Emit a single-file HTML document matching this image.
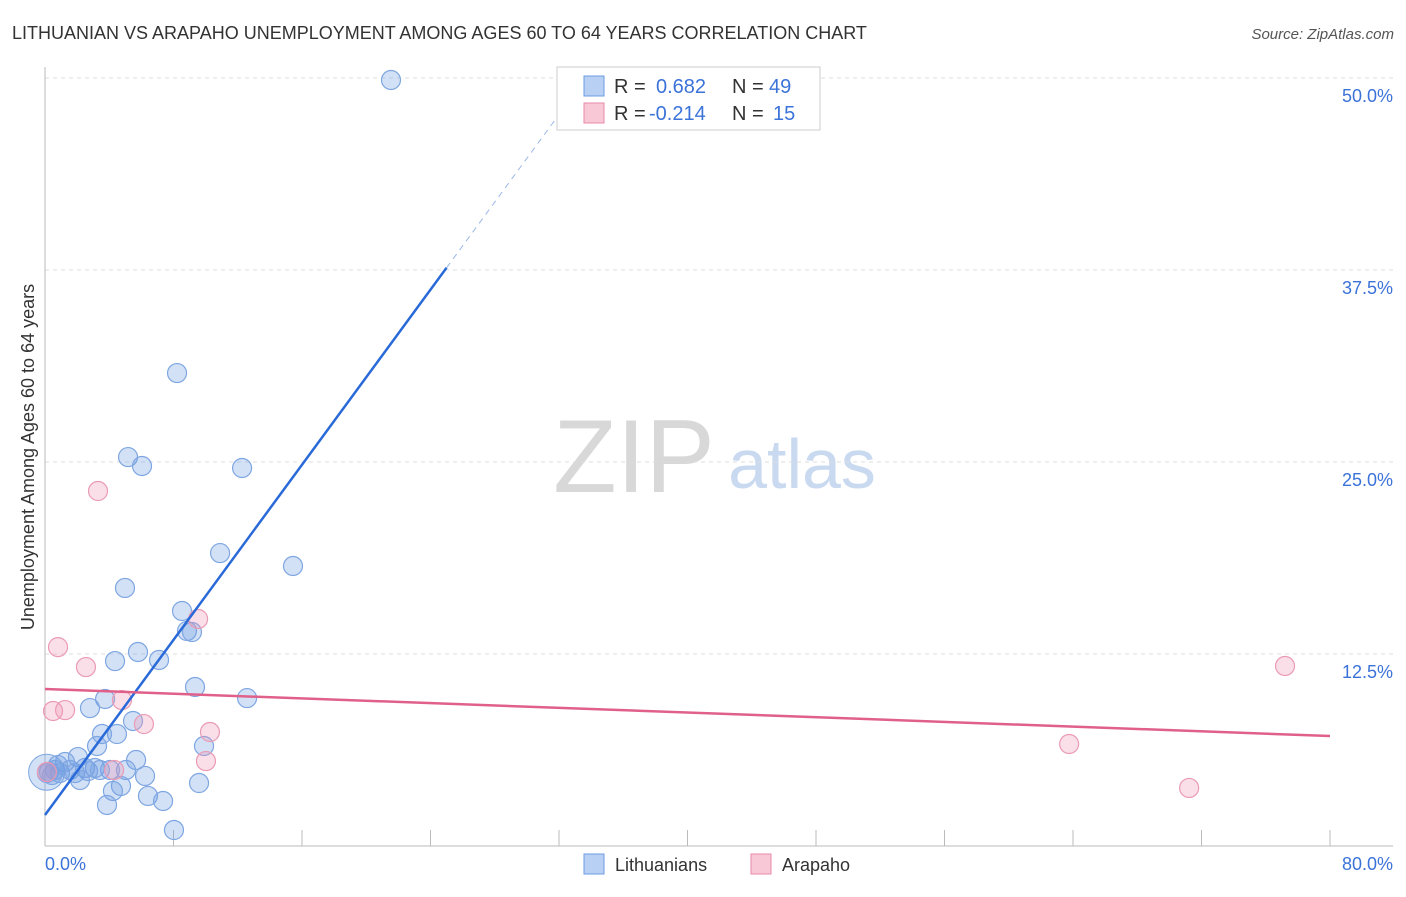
<!DOCTYPE html>
<html><head><meta charset="utf-8"><style>
body{margin:0;background:#fff;font-family:"Liberation Sans",sans-serif;}
svg text{font-family:"Liberation Sans",sans-serif;}
</style></head><body>
<svg id="chart" width="1406" height="892" viewBox="0 0 1406 892">
<text x="12" y="39" font-size="18" fill="#333">LITHUANIAN VS ARAPAHO UNEMPLOYMENT AMONG AGES 60 TO 64 YEARS CORRELATION CHART</text>
<text x="1394" y="39" font-size="15" fill="#555" text-anchor="end" font-style="italic">Source: ZipAtlas.com</text>
<g>
<text x="634" y="492" font-size="104" fill="#d8d8d8" font-family="Liberation Serif" text-anchor="middle">ZIP</text>
<text x="802" y="488" font-size="70" fill="#c9d9f0" text-anchor="middle">atlas</text>
</g>
<g id="grid"></g>
<g id="axes"></g>
<g id="marks"></g>
<text transform="translate(34,457) rotate(-90)" font-size="18" fill="#333" text-anchor="middle">Unemployment Among Ages 60 to 64 years</text>
<g>
<rect x="557" y="67" width="263" height="63" fill="#fff" stroke="#ccc"/>
<rect x="584" y="76" width="20" height="20" fill="#b8d0f3" stroke="#6b9be0"/>
<text x="614" y="93" font-size="20" fill="#333">R = </text><text x="656" y="93" font-size="20" fill="#3b73d9">0.682</text>
<text x="732" y="93" font-size="20" fill="#333">N = </text><text x="769" y="93" font-size="20" fill="#3b73d9">49</text>
<rect x="584" y="103" width="20" height="20" fill="#f8c8d6" stroke="#e88aa8"/>
<text x="614" y="120" font-size="20" fill="#333">R = </text><text x="649" y="120" font-size="20" fill="#3b73d9">-0.214</text>
<text x="732" y="120" font-size="20" fill="#333">N = </text><text x="773" y="120" font-size="20" fill="#3b73d9">15</text>
</g>
<g>
<rect x="584" y="854" width="20" height="20" fill="#b8d0f3" stroke="#6b9be0"/>
<text x="615" y="871" font-size="18" fill="#333">Lithuanians</text>
<rect x="751" y="854" width="20" height="20" fill="#f8c8d6" stroke="#e88aa8"/>
<text x="782" y="871" font-size="18" fill="#333">Arapaho</text>
</g>
</svg>
<script>
const blueX=[21.54,8.22,5.17,6.04,12.27,10.90,15.44,4.98,8.53,8.84,9.15,5.79,4.36,7.10,9.34,12.58,3.74,2.80,5.48,4.48,3.55,3.24,9.90,5.67,2.05,1.25,3.11,5.04,4.05,0.62,0.93,1.56,2.49,0.25,6.23,4.73,4.23,9.59,6.41,7.35,3.86,8.03,2.68,1.87,0.44,3.42,2.18,0.12,0.81];
const blueY=[49.87,30.79,25.32,24.74,24.61,19.07,18.23,16.80,15.30,14.00,13.93,12.63,12.04,12.11,10.35,9.63,9.57,8.98,8.14,7.29,7.29,6.51,6.51,5.60,5.79,5.47,5.08,4.95,4.95,4.95,4.75,4.95,5.08,4.82,4.56,3.91,3.58,4.10,3.26,2.93,2.67,1.04,4.88,4.75,4.62,4.95,4.30,4.75,5.27];
const pinkX=[3.30,0.81,2.55,9.53,4.79,0.50,1.25,6.16,10.27,10.02,4.30,77.2,63.76,71.23,0.12];
const pinkY=[23.11,12.95,11.65,14.78,9.50,8.79,8.85,7.94,7.42,5.53,4.95,11.72,6.64,3.78,4.82];
const yTicks=[12.5,25.0,37.5,50.0];
const xTickVals=[0,8,16,24,32,40,48,56,64,72,80];
const blueTrend=[2.02,1.425];
const pinkTrend=[10.22,-0.03825];
const NS='http://www.w3.org/2000/svg';
const sx=v=>45+v*1285/80, sy=v=>846-v*192/12.5;
function mk(t,a,p){const e=document.createElementNS(NS,t);for(const k in a)e.setAttribute(k,a[k]);p.appendChild(e);return e;}
const grid=document.getElementById('grid'),axes=document.getElementById('axes'),marks=document.getElementById('marks');
yTicks.forEach(v=>{
 const l=mk('line',{x1:45,x2:1393,y1:sy(v),y2:sy(v),stroke:'#ddd','stroke-dasharray':'4,4'},grid);
 
 
 const t=mk('text',{x:1393,y:sy(v)+24,'font-size':18,fill:'#3b73d9','text-anchor':'end'},axes);
 t.textContent=v.toFixed(1)+'%';
 
 
});
mk('line',{x1:45,x2:45,y1:67,y2:846,stroke:'#bbb'},axes);
mk('line',{x1:45,x2:1393,y1:846,y2:846,stroke:'#bbb'},axes);
xTickVals.forEach(v=>{const l=mk('line',{x1:sx(v),x2:sx(v),y1:830,y2:846,stroke:'#bbb'},axes);
 
 });
const xl0=mk('text',{x:45,y:870,'font-size':18,fill:'#3b73d9'},axes);xl0.textContent=xTickVals[0].toFixed(1)+'%';


const xl1=mk('text',{x:1393,y:870,'font-size':18,fill:'#3b73d9','text-anchor':'end'},axes);xl1.textContent=xTickVals[xTickVals.length-1].toFixed(1)+'%';


const big=mk('circle',{cx:sx(0.1),cy:sy(4.8),r:18,fill:'rgba(110,155,225,0.3)',stroke:'#7ea6e2'},marks);


blueX.forEach((x,i)=>{const c=mk('circle',{cx:sx(x),cy:sy(blueY[i]),r:9.5,fill:'rgba(110,155,225,0.3)',stroke:'#7ea6e2','stroke-width':1.2},marks);
 
 });
pinkX.forEach((x,i)=>{const c=mk('circle',{cx:sx(x),cy:sy(pinkY[i]),r:9.5,fill:'rgba(240,150,180,0.3)',stroke:'#eb9ab4','stroke-width':1.2},marks);
 
 });
const bxEnd=25, bxMax=(50-blueTrend[0])/blueTrend[1];
const bl=mk('line',{x1:sx(0),y1:sy(blueTrend[0]),x2:sx(bxEnd),y2:sy(blueTrend[0]+blueTrend[1]*bxEnd),stroke:'#2a6ad8','stroke-width':2.5},marks);


const bd=mk('line',{x1:sx(bxEnd),y1:sy(blueTrend[0]+blueTrend[1]*bxEnd),x2:sx(bxMax),y2:sy(50),stroke:'#9bb8e8','stroke-width':1,'stroke-dasharray':'6,5'},marks);


const pl=mk('line',{x1:sx(0),y1:sy(pinkTrend[0]),x2:sx(80),y2:sy(pinkTrend[0]+pinkTrend[1]*80),stroke:'#e0608a','stroke-width':2.5},marks);


</script>
</body></html>
